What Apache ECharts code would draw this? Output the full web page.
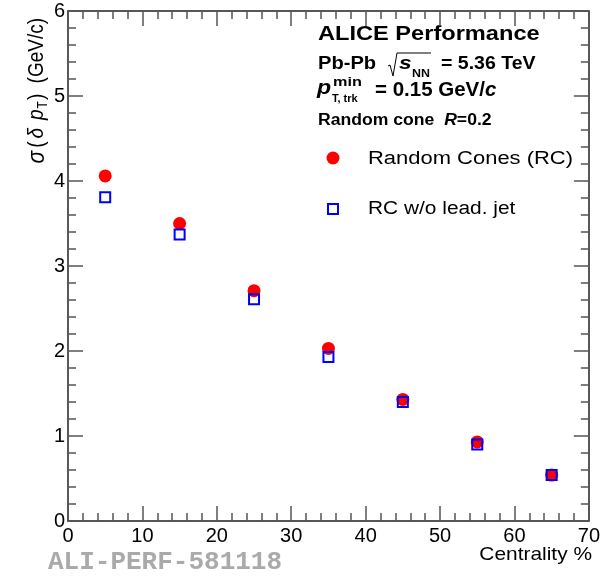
<!DOCTYPE html>
<html>
<head>
<meta charset="utf-8">
<script src="https://cdn.jsdelivr.net/npm/echarts@6/dist/echarts.min.js"></script>
<style>
  html, body { margin: 0; padding: 0; background: #fff; }
  #chart { width: 603px; height: 576px; }
</style>
</head>
<body>
<div id="chart"></div>
<script>
// centrality bin centres (%)
const centrality = [5, 15, 25, 35, 45, 55, 65]
// sigma(delta pT) in GeV/c
const sigmaRC = [4.06, 3.50, 2.71, 2.03, 1.43, 0.93, 0.54]
const sigmaRCnoLead = [3.81, 3.37, 2.61, 1.93, 1.40, 0.90, 0.54]
const seriesNames = ['Random Cones (RC)', 'RC w/o lead. jet']

const FONT = '"Liberation Sans"'

const chartDom = echarts.init(document.getElementById('chart'), null, { renderer: 'canvas' })

const axisLine = { show: true, onZero: false, lineStyle: { color: '#222', width: 1.5 } }
const axisTick = { show: true, inside: true, length: 15, lineStyle: { color: '#555', width: 1.5 } }
const minorTick = { show: true, splitNumber: 5, length: 8, lineStyle: { color: '#555', width: 1.5 } }

function xAxisCfg(pos, showLabel) {
	return {
		type: 'value', position: pos, min: 0, max: 70, interval: 10,
		axisLine, axisTick, minorTick,
		splitLine: { show: false },
		axisLabel: { show: showLabel, fontFamily: 'Liberation Sans', fontSize: 20, color: '#000', margin: 5 }
	}
}
function yAxisCfg(pos, showLabel) {
	return {
		type: 'value', position: pos, min: 0, max: 6, interval: 1,
		axisLine, axisTick, minorTick,
		splitLine: { show: false },
		axisLabel: { show: showLabel, fontFamily: 'Liberation Sans', fontSize: 20, color: '#000', margin: 3 }
	}
}

// plain text piece, stretched a little sideways where the reference is wider
function T(text, x, y, font, sx, align, fill) {
	return {
		type: 'text', x, y, scaleX: sx || 1, silent: true,
		style: { text, font, align: align || 'left', verticalAlign: 'middle', fill: fill || '#000' }
	}
}

const option = {
	animation: false,
	backgroundColor: '#fff',
	grid: { left: 68, right: 11, top: 11, bottom: 55 },
	xAxis: [xAxisCfg('bottom', true), xAxisCfg('top', false)],
	yAxis: [yAxisCfg('left', true), yAxisCfg('right', false)],
	series: [
		{
			name: seriesNames[0], type: 'scatter', symbol: 'circle', symbolSize: 13,
			itemStyle: { color: '#ff0000', opacity: 1 },
			data: centrality.map((c, i) => [c, sigmaRC[i]]),
			z: 2
		},
		{
			name: seriesNames[1], type: 'scatter', symbol: 'rect', symbolSize: 10,
			itemStyle: { color: 'rgba(0,0,0,0)', borderColor: '#0000ff', borderWidth: 2, opacity: 1 },
			data: centrality.map((c, i) => [c, sigmaRCnoLead[i]]),
			z: 3
		}
	],
	graphic: [
		// header
		T('ALICE Performance', 318, 34, 'bold 20px ' + FONT, 1.18),
		T('Pb-Pb', 318, 64, 'bold 17.5px ' + FONT, 1.15),
		{ type: 'polyline', silent: true, shape: { points: [[388, 66], [390, 65], [393, 76], [397, 53], [431, 53]] }, style: { stroke: '#000', lineWidth: 1, fill: null } },
		T('s', 399, 64, 'italic bold 19px ' + FONT, 1.2),
		T('NN', 412, 73.5, 'bold 11px ' + FONT, 1.13),
		T('= 5.36 TeV', 441, 64, 'bold 18px ' + FONT, 1.085),
		T('p', 317, 88, 'italic bold 21px ' + FONT, 1.1),
		T('min', 333, 83, 'bold 12.5px ' + FONT, 1.3),
		T('T, trk', 332, 99, 'bold 11px ' + FONT, 1.0),
		{
			type: 'text', x: 375, y: 90, silent: true,
			style: {
				text: '{b|= 0.15 GeV/}{bi|c}', verticalAlign: 'middle', fill: '#000',
				rich: {
					b: { fontFamily: 'Liberation Sans', fontWeight: 'bold', fontSize: 20.5 },
					bi: { fontFamily: 'Liberation Sans', fontWeight: 'bold', fontStyle: 'italic', fontSize: 20.5 }
				}
			}
		},
		{
			type: 'text', x: 318, y: 121, scaleX: 1.1, silent: true,
			style: {
				text: '{b|Random cone  }{bi|R}{b|=0.2}', verticalAlign: 'middle', fill: '#000',
				rich: {
					b: { fontFamily: 'Liberation Sans', fontWeight: 'bold', fontSize: 16 },
					bi: { fontFamily: 'Liberation Sans', fontWeight: 'bold', fontStyle: 'italic', fontSize: 16 }
				}
			}
		},
		// legend
		{ type: 'circle', silent: true, shape: { cx: 333, cy: 158, r: 6.5 }, style: { fill: '#ff0000' } },
		T(seriesNames[0], 368, 159, '18px ' + FONT, 1.22),
		{ type: 'rect', silent: true, shape: { x: 328, y: 204, width: 10, height: 10 }, style: { fill: 'none', stroke: '#0000ff', lineWidth: 2 } },
		T(seriesNames[1], 368, 209, '18px ' + FONT, 1.16),
		// axis titles
		T('Centrality %', 592, 555, '19px ' + FONT, 1.1, 'right'),
		{
			type: 'text', silent: true, x: 37, y: 15, rotation: Math.PI / 2, scaleY: 1.15,
			style: {
				text: '{g|σ}{n|(}{d|δ}{p|p}{s|T}{n|)}{sp| }{n|(GeV/c)}',
				align: 'right', verticalAlign: 'middle', fill: '#000',
				rich: {
					g: { fontFamily: 'Liberation Sans', fontSize: 21, fontStyle: 'italic', padding: [0, 3, 0, 0] },
					n: { fontFamily: 'Liberation Sans', fontSize: 19, padding: [0, 3, 0, 0] },
					sp: { fontFamily: 'Liberation Sans', fontSize: 19, padding: [0, 2, 0, 0] },
					d: { fontFamily: 'Liberation Sans', fontSize: 19, fontStyle: 'italic', padding: [0, 8, 0, 0] },
					p: { fontFamily: 'Liberation Sans', fontSize: 19, fontStyle: 'italic', padding: [0, 1, 0, 0] },
					s: { fontFamily: 'Liberation Sans', fontSize: 12, padding: [10, 1, 0, 0] }
				}
			}
		},
		// watermark
		T('ALI-PERF-581118', 48, 562, 'bold 26px "Liberation Mono"', 1, 'left', '#aaaaaa')
	]
}

chartDom.setOption(option, true)
</script>
</body>
</html>
